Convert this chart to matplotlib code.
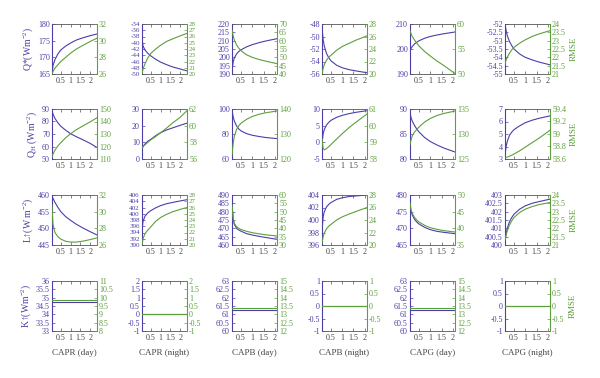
import matplotlib
matplotlib.use('Agg')
import matplotlib.pyplot as plt
from matplotlib.ticker import FuncFormatter

plt.rcParams['font.family'] = ['Liberation Serif', 'DejaVu Serif']
plt.rcParams['mathtext.fontset'] = 'custom'
plt.rcParams['mathtext.rm'] = 'Liberation Serif'
plt.rcParams['mathtext.it'] = 'Liberation Serif:italic'

BLUE = '#4b3ea6'
GREEN = '#5c9f3c'
GRAY = '#555555'

# parameter values (x) for the CAPR columns and the CAPB/CAPG columns
x_R = [0.05, 0.1, 0.2, 0.35, 0.5, 0.75, 1.0, 1.3, 1.6, 2.0, 2.35]
x_BG = [0.1, 0.15, 0.2, 0.3, 0.4, 0.5, 0.75, 1.0, 1.3, 1.6, 2.1]

col_labels = ['CAPR (day)', 'CAPR (night)', 'CAPB (day)', 'CAPB (night)',
              'CAPG (day)', 'CAPG (night)']
row_labels = ['Q*(Wm$^{-2}$)', 'Q$_{\\mathrm{H}}$ (Wm$^{-2}$)',
              'L\u2191(W m$^{-2}$)', 'K\u2191(Wm$^{-2}$)']

# Row 1: Q*  (blue = flux, green = RMSE)
qstar_flux = [
    [165.3, 167.5, 169.3, 171.0, 172.2, 173.4, 174.3, 175.2, 175.8, 176.5, 177.0],
    [-38.5, -41.0, -42.3, -43.4, -44.2, -45.3, -46.2, -47.0, -47.7, -48.4, -49.0],
    [192.0, 197.0, 199.5, 202.0, 203.5, 204.5, 206.3, 207.6, 208.8, 209.8, 211.2],
    [-48.5, -50.5, -51.5, -52.7, -53.4, -53.9, -54.6, -55.0, -55.3, -55.5, -55.8],
    [199.3, 200.3, 201.0, 202.0, 202.7, 203.3, 204.3, 205.0, 205.6, 206.1, 206.8],
    [-52.0, -52.4, -52.7, -53.05, -53.3, -53.5, -53.8, -54.0, -54.15, -54.28, -54.45],
]
qstar_rmse = [
    [26.0, 26.3, 26.7, 27.1, 27.5, 28.0, 28.5, 29.0, 29.4, 29.9, 30.3],
    [20.0, 20.8, 21.6, 22.6, 23.3, 24.0, 24.6, 25.2, 25.6, 26.1, 26.5],
    [66.5, 63.0, 60.5, 57.5, 55.5, 54.0, 51.5, 50.0, 48.7, 47.7, 46.2],
    [20.0, 20.9, 21.5, 22.2, 22.7, 23.0, 23.8, 24.4, 24.9, 25.4, 26.1],
    [58.7, 58.0, 57.5, 56.8, 56.2, 55.6, 54.5, 53.6, 52.6, 51.7, 50.1],
    [21.6, 21.85, 22.0, 22.25, 22.45, 22.6, 22.85, 23.05, 23.25, 23.4, 23.6],
]

# Row 2: QH
qh_flux = [
    [89.0, 86.0, 82.5, 79.0, 76.2, 73.0, 70.2, 67.8, 65.6, 62.5, 59.2],
    [5.5, 7.5, 9.0, 10.7, 11.8, 14.0, 15.8, 17.4, 18.6, 20.2, 21.5],
    [99.0, 94.0, 90.5, 86.5, 84.0, 82.5, 80.3, 79.0, 78.0, 77.2, 76.3],
    [-0.3, 2.5, 3.8, 5.2, 6.0, 6.6, 7.5, 8.1, 8.6, 9.0, 9.5],
    [89.2, 88.2, 87.6, 86.7, 86.0, 85.4, 84.3, 83.5, 82.8, 82.2, 81.4],
    [3.3, 4.0, 4.4, 4.9, 5.15, 5.35, 5.65, 5.9, 6.1, 6.25, 6.45],
]
qh_rmse = [
    [111.5, 114.0, 117.0, 120.5, 123.1, 127.0, 130.2, 133.5, 136.2, 139.7, 143.0],
    [57.3, 57.5, 57.7, 58.0, 58.3, 58.7, 59.15, 59.7, 60.3, 61.0, 61.8],
    [121.5, 126.0, 129.0, 131.8, 133.3, 134.3, 135.9, 137.0, 137.9, 138.5, 139.2],
    [59.2, 58.65, 58.55, 58.62, 58.74, 58.87, 59.2, 59.52, 59.88, 60.2, 60.7],
    [127.9, 128.9, 129.6, 130.4, 130.9, 131.4, 132.4, 133.1, 133.7, 134.1, 134.6],
    [58.62, 58.625, 58.63, 58.645, 58.66, 58.68, 58.73, 58.79, 58.86, 58.93, 59.06],
]

# Row 3: L up
lup_flux = [
    [459.7, 459.0, 457.8, 456.3, 455.0, 453.5, 452.4, 451.2, 450.2, 449.0, 448.0],
    [394.5, 397.5, 399.2, 400.3, 401.0, 401.9, 402.6, 403.2, 403.6, 404.1, 404.5],
    [485.0, 476.0, 472.5, 470.0, 469.0, 468.3, 466.8, 466.0, 465.2, 464.5, 463.4],
    [398.3, 400.5, 401.3, 402.1, 402.5, 402.8, 403.3, 403.55, 403.75, 403.85, 404.0],
    [476.5, 475.0, 474.0, 472.7, 471.9, 471.3, 470.3, 469.6, 469.1, 468.8, 468.4],
    [400.2, 400.7, 401.0, 401.4, 401.65, 401.85, 402.15, 402.35, 402.5, 402.6, 402.75],
]
lup_rmse = [
    [30.8, 28.5, 27.5, 27.0, 26.7, 26.45, 26.35, 26.35, 26.45, 26.65, 26.85],
    [20.0, 21.0, 21.8, 22.4, 22.9, 23.8, 24.4, 24.9, 25.3, 25.7, 26.0],
    [54.0, 46.0, 43.0, 41.0, 40.0, 39.3, 38.2, 37.4, 36.7, 36.1, 35.4],
    [20.3, 21.3, 21.9, 22.6, 23.0, 23.3, 24.0, 24.5, 24.95, 25.35, 26.0],
    [47.7, 45.5, 44.5, 43.3, 42.5, 41.9, 40.9, 40.2, 39.7, 39.3, 38.9],
    [21.3, 21.6, 21.85, 22.2, 22.45, 22.65, 22.95, 23.15, 23.3, 23.42, 23.55],
]

# Row 4: K up (constant)
kup_flux = [34.75, 0.0, 61.25, 0.0, 61.25, 0.0]
kup_rmse = [9.88, 0.0, 13.4, 0.0, 13.4, 0.0]

# axis ranges: (min, max, step)
left_axes = [
    [(165, 180, 5), (-50, -34, 2), (190, 220, 5), (-56, -48, 2), (190, 210, 10), (-55, -52, 0.5)],
    [(50, 90, 10), (0, 30, 10), (60, 100, 20), (-5, 10, 5), (80, 90, 5), (3, 7, 1)],
    [(445, 460, 5), (390, 406, 2), (460, 490, 5), (396, 404, 2), (465, 480, 5), (400, 403, 0.5)],
    [(33, 36, 0.5), (-1, 2, 0.5), (60, 63, 0.5), (-1, 1, 0.5), (60, 63, 0.5), (-1, 1, 0.5)],
]
right_axes = [
    [(26, 32, 2), (20, 28, 1), (40, 70, 5), (20, 28, 2), (50, 60, 5), (21, 24, 0.5)],
    [(110, 150, 10), (56, 62, 2), (120, 140, 10), (58, 61, 1), (125, 135, 5), (58.6, 59.4, 0.2)],
    [(26, 32, 2), (20, 28, 1), (30, 60, 5), (20, 28, 2), (35, 50, 5), (21, 24, 0.5)],
    [(8, 11, 0.5), (-1, 2, 0.5), (12, 15, 0.5), (-1, 1, 0.5), (12, 15, 0.5), (-1, 1, 0.5)],
]
x_ticks = [0.5, 1, 1.5, 2]

W, H = 600, 378
col_left = [52, 142, 232, 322, 410, 505]
row_top = [24, 109, 195, 281]
aw, ah = 45, 50

fmt = FuncFormatter(lambda v, p: ('%g' % round(v, 6)))


def ticks(lo, hi, step):
    n = int(round((hi - lo) / step))
    return [lo + i * step for i in range(n + 1)]


fig = plt.figure(figsize=(W / 100, H / 100), dpi=100)
fs = 5.8

rows_flux = [qstar_flux, qh_flux, lup_flux]
rows_rmse = [qstar_rmse, qh_rmse, lup_rmse]

for r in range(4):
    for c in range(6):
        l = col_left[c] / W
        b = 1 - (row_top[r] + ah) / H
        ax = fig.add_axes([l, b, aw / W, ah / H])
        ax2 = ax.twinx()
        xs = x_R if c < 2 else x_BG
        xlim = (0.05, 2.35) if c < 2 else (0.1, 2.1)
        if r < 3:
            ax.plot(xs, rows_flux[r][c], color=BLUE, lw=0.8)
            ax2.plot(xs, rows_rmse[r][c], color=GREEN, lw=0.8)
        else:
            ax.axhline(kup_flux[c], color=BLUE, lw=0.8)
            ax2.axhline(kup_rmse[c], color=GREEN, lw=0.8)
        ax.set_xlim(*xlim)
        lo, hi, st = left_axes[r][c]
        ax.set_ylim(lo, hi)
        ax.set_yticks(ticks(lo, hi, st))
        lo2, hi2, st2 = right_axes[r][c]
        ax2.set_ylim(lo2, hi2)
        ax2.set_yticks(ticks(lo2, hi2, st2))
        ax.set_xticks(x_ticks)
        ax.xaxis.set_major_formatter(fmt)
        ax.yaxis.set_major_formatter(fmt)
        ax2.yaxis.set_major_formatter(fmt)
        nl = len(ax.get_yticks())
        nr = len(ax2.get_yticks())
        ax.tick_params(axis='y', direction='in', length=2, width=0.5, colors=BLUE,
                       labelsize=fs if nl < 8 else 5.0, pad=1.5, left=True, right=False)
        ax.tick_params(axis='x', direction='in', length=2, width=0.5, color=GRAY,
                       labelcolor='#444444', labelsize=fs, pad=2.5, top=True, bottom=True)
        ax2.tick_params(axis='y', direction='in', length=2, width=0.5, colors=GREEN,
                        labelsize=fs if nr < 8 else 5.0, pad=1.5)
        for s in ['top', 'bottom']:
            ax.spines[s].set_color(GRAY)
            ax.spines[s].set_linewidth(0.6)
        ax.spines['left'].set_color(BLUE)
        ax.spines['left'].set_linewidth(0.8)
        ax.spines['right'].set_visible(False)
        for s in ['top', 'bottom', 'left']:
            ax2.spines[s].set_visible(False)
        ax2.spines['right'].set_color(GREEN)
        ax2.spines['right'].set_linewidth(0.8)
        if c == 0:
            ax.set_ylabel(row_labels[r], color=BLUE, fontsize=7, labelpad=2)
        if c == 5:
            ax2.set_ylabel('RMSE', color=GREEN, fontsize=6.5, labelpad=3)
        if r == 3:
            ax.set_xlabel(col_labels[c], color='#444444', fontsize=6.5, labelpad=5)

fig.savefig('out.png', dpi=100)
